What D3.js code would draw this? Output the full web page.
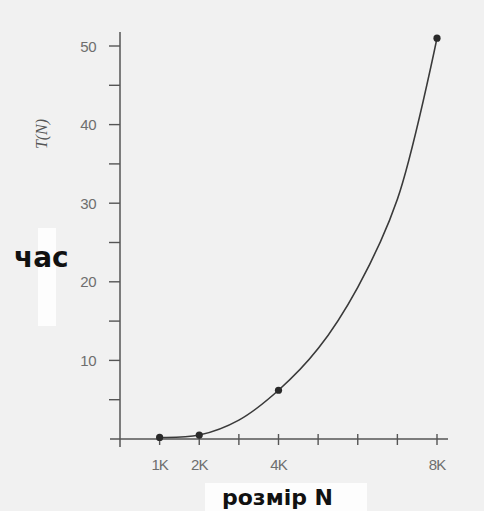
<!DOCTYPE html>
<html><head><meta charset="utf-8">
<script src="https://cdn.jsdelivr.net/npm/d3@7"></script>
<style>html,body{margin:0;padding:0;background:#f1f1f1;}svg{display:block;}</style>
</head><body>
<svg id="c" width="484" height="511"></svg>
<script>
// measured points (markers), N in thousands
const sizes = [1, 2, 4, 8];
const times = [0.2, 0.5, 6.2, 51.0];
// values
const curveSizes = [1, 2, 3, 4, 5, 6, 7, 8];
const curveTimes = [0.2, 0.5, 2.4, 6.2, 11.5, 19.3, 30.5, 51.0];
const xTickValues = [1, 2, 3, 4, 5, 6, 7, 8];
const xTickLabels = {1: "1K", 2: "2K", 4: "4K", 8: "8K"};
const yMajorTicks = [10, 20, 30, 40, 50];
const yMinorTicks = [5, 15, 25, 35, 45];

const svg = d3.select("#c");
svg.append("rect").attr("width", 484).attr("height", 511).attr("fill", "#f1f1f1");

const x = d3.scaleLinear().domain([0, 8]).range([120, 437]);
const y = d3.scaleLinear().domain([0, 50]).range([439, 46]);

// white patches
svg.append("rect").attr("x", 38).attr("y", 228).attr("width", 18).attr("height", 98).attr("fill", "#fdfdfd");
svg.append("rect").attr("x", 205).attr("y", 483).attr("width", 162).attr("height", 28).attr("fill", "#fdfdfd");

const axisColor = "#555";
svg.append("line").attr("x1", x(0)).attr("x2", x(0)).attr("y1", 32).attr("y2", 447)
  .attr("stroke", axisColor).attr("stroke-width", 1.5);
svg.append("line").attr("x1", 110).attr("x2", 448).attr("y1", y(0)).attr("y2", y(0))
  .attr("stroke", axisColor).attr("stroke-width", 1.5);

// y ticks
const yt = svg.append("g");
yt.selectAll("line").data(yMajorTicks.concat(yMinorTicks)).join("line")
  .attr("x1", x(0) - 11).attr("x2", x(0)).attr("y1", d => y(d)).attr("y2", d => y(d))
  .attr("stroke", axisColor).attr("stroke-width", 1.4);
yt.selectAll("text").data(yMajorTicks).join("text")
  .attr("x", x(0) - 24).attr("y", d => y(d) + 5.5).attr("text-anchor", "end")
  .attr("font-family", "Liberation Sans, Arial, sans-serif").attr("font-size", 15)
  .attr("letter-spacing", -0.5).attr("fill", "#6e6e6e").text(d => d);

// x ticks
const xt = svg.append("g");
xt.selectAll("line").data(xTickValues).join("line")
  .attr("x1", d => x(d)).attr("x2", d => x(d)).attr("y1", y(0) - 5).attr("y2", y(0) + 6)
  .attr("stroke", axisColor).attr("stroke-width", 1.4);
xt.selectAll("text").data(xTickValues.filter(d => xTickLabels[d])).join("text")
  .attr("x", d => x(d)).attr("y", 470).attr("text-anchor", "middle")
  .attr("font-family", "Liberation Sans, Arial, sans-serif").attr("font-size", 15)
  .attr("fill", "#6e6e6e").attr("letter-spacing", -1).text(d => xTickLabels[d]);

// curve
const cpts = curveSizes.map((s, i) => [s, curveTimes[i]]);
svg.append("path").datum(cpts)
  .attr("d", d3.line().x(d => x(d[0])).y(d => y(d[1])).curve(d3.curveCatmullRom.alpha(0.5)))
  .attr("fill", "none").attr("stroke", "#3a3a3a").attr("stroke-width", 1.6);
const pts = sizes.map((s, i) => [s, times[i]]);
svg.selectAll("circle").data(pts).join("circle")
  .attr("cx", d => x(d[0])).attr("cy", d => y(d[1])).attr("r", 3.6).attr("fill", "#2a2a2a");

// T(N) label
svg.append("text").attr("transform", "translate(47,134) rotate(-90)")
  .attr("text-anchor", "middle").attr("font-family", "Liberation Serif, Times, serif")
  .attr("font-style", "italic").attr("font-size", 16).attr("fill", "#555").text("T(N)");

// час label
svg.append("text").attr("x", 14).attr("y", 267)
  .attr("font-family", "DejaVu Sans, Arial, sans-serif").attr("font-weight", "bold")
  .attr("font-size", 28).attr("fill", "#111").text("час");

// розмір N
svg.append("text").attr("x", 222).attr("y", 505)
  .attr("font-family", "DejaVu Sans, Arial, sans-serif").attr("font-weight", "bold")
  .attr("font-size", 22).attr("fill", "#111").text("розмір N");
</script>
</body></html>
